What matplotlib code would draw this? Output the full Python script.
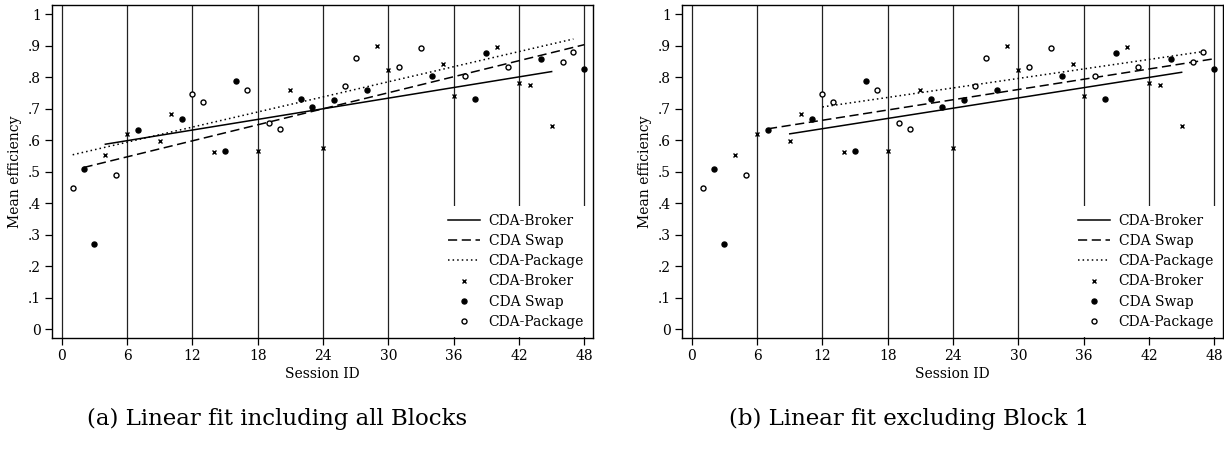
import numpy as np
import matplotlib
matplotlib.use("Agg")
import matplotlib.pyplot as plt

plt.rcParams['font.family'] = ['DejaVu Serif']

# session IDs and mean efficiency per treatment
broker_x = [4, 6, 9, 10, 14, 18, 21, 24, 29, 30, 35, 36, 40, 42, 43, 45]
broker_y = [0.552, 0.620, 0.598, 0.685, 0.563, 0.566, 0.760, 0.575,
            0.900, 0.824, 0.843, 0.741, 0.897, 0.783, 0.775, 0.646]
swap_x = [2, 3, 7, 11, 15, 16, 22, 23, 25, 28, 34, 38, 39, 44, 48]
swap_y = [0.509, 0.270, 0.633, 0.668, 0.567, 0.790, 0.732, 0.705,
          0.728, 0.759, 0.805, 0.732, 0.878, 0.860, 0.826]
package_x = [1, 5, 12, 13, 17, 19, 20, 26, 27, 31, 33, 37, 41, 46, 47]
package_y = [0.450, 0.490, 0.747, 0.721, 0.760, 0.656, 0.635, 0.772,
             0.863, 0.832, 0.894, 0.806, 0.833, 0.850, 0.882]

labels = ['CDA-Broker', 'CDA Swap', 'CDA-Package']
block_edges = [0, 6, 12, 18, 24, 30, 36, 42, 48]
yticks = [0, 0.1, 0.2, 0.3, 0.4, 0.5, 0.6, 0.7, 0.8, 0.9, 1.0]
ytick_labels = ['0', '.1', '.2', '.3', '.4', '.5', '.6', '.7', '.8', '.9', '1']
captions = ['(a) Linear fit including all Blocks', '(b) Linear fit excluding Block 1']

groups = [(broker_x, broker_y), (swap_x, swap_y), (package_x, package_y)]
line_styles = ['-', (0, (6, 3)), (0, (1, 2.0))]
markers = [dict(marker='x', ms=3.2, mew=1.0, color='black', ls='none'),
           dict(marker='o', ms=3.6, mfc='black', mec='black', ls='none'),
           dict(marker='o', ms=3.6, mfc='white', mec='black', mew=1.0, ls='none')]

fig = plt.figure(figsize=(12.24, 4.58), dpi=100)
positions = [[52 / 1224, 120 / 458, 541 / 1224, 333 / 458],
             [682 / 1224, 120 / 458, 541 / 1224, 333 / 458]]
caption_x = [87 / 1224, 729 / 1224]

for k, pos in enumerate(positions):
    ax = fig.add_axes(pos)
    min_session = 0 if k == 0 else 7  # panel b drops Block 1 (sessions 1-6) from the fits

    for xv in block_edges:
        ax.axvline(xv, color='#222222', lw=0.9, zorder=1)

    fit_handles = []
    for (gx, gy), style in zip(groups, line_styles):
        gx = np.array(gx, dtype=float)
        gy = np.array(gy, dtype=float)
        keep = gx >= min_session
        slope, icpt = np.polyfit(gx[keep], gy[keep], 1)
        xs = np.array([gx[keep].min(), gx[keep].max()])
        h, = ax.plot(xs, icpt + slope * xs, color='black', lw=1.1, ls=style, zorder=3)
        fit_handles.append(h)

    mark_handles = []
    for (gx, gy), mk in zip(groups, markers):
        h, = ax.plot(gx, gy, zorder=4, **mk)
        mark_handles.append(h)

    ax.set_xlim(-0.9, 48.8)
    ax.set_ylim(-0.028, 1.03)
    ax.set_xticks(block_edges)
    ax.set_yticks(yticks)
    ax.set_yticklabels(ytick_labels)
    ax.tick_params(direction='out', length=5, width=0.9, labelsize=10, pad=3)
    for sp in ax.spines.values():
        sp.set_linewidth(1.0)
    ax.set_xlabel('Session ID', fontsize=10, labelpad=3)
    ax.set_ylabel('Mean efficiency', fontsize=10, labelpad=4)

    leg = ax.legend(fit_handles + mark_handles, labels + labels, loc='lower right',
                    borderaxespad=0.1, fontsize=10, frameon=True, framealpha=1,
                    edgecolor='none', facecolor='white', fancybox=False,
                    handlelength=2.3, handletextpad=0.6, labelspacing=0.45,
                    borderpad=0.55)
    leg.set_zorder(5)

    fig.text(caption_x[k], 1 - 425 / 458, captions[k],
             fontsize=16.5, ha='left', va='baseline')

fig.savefig('out.png', dpi=100)
